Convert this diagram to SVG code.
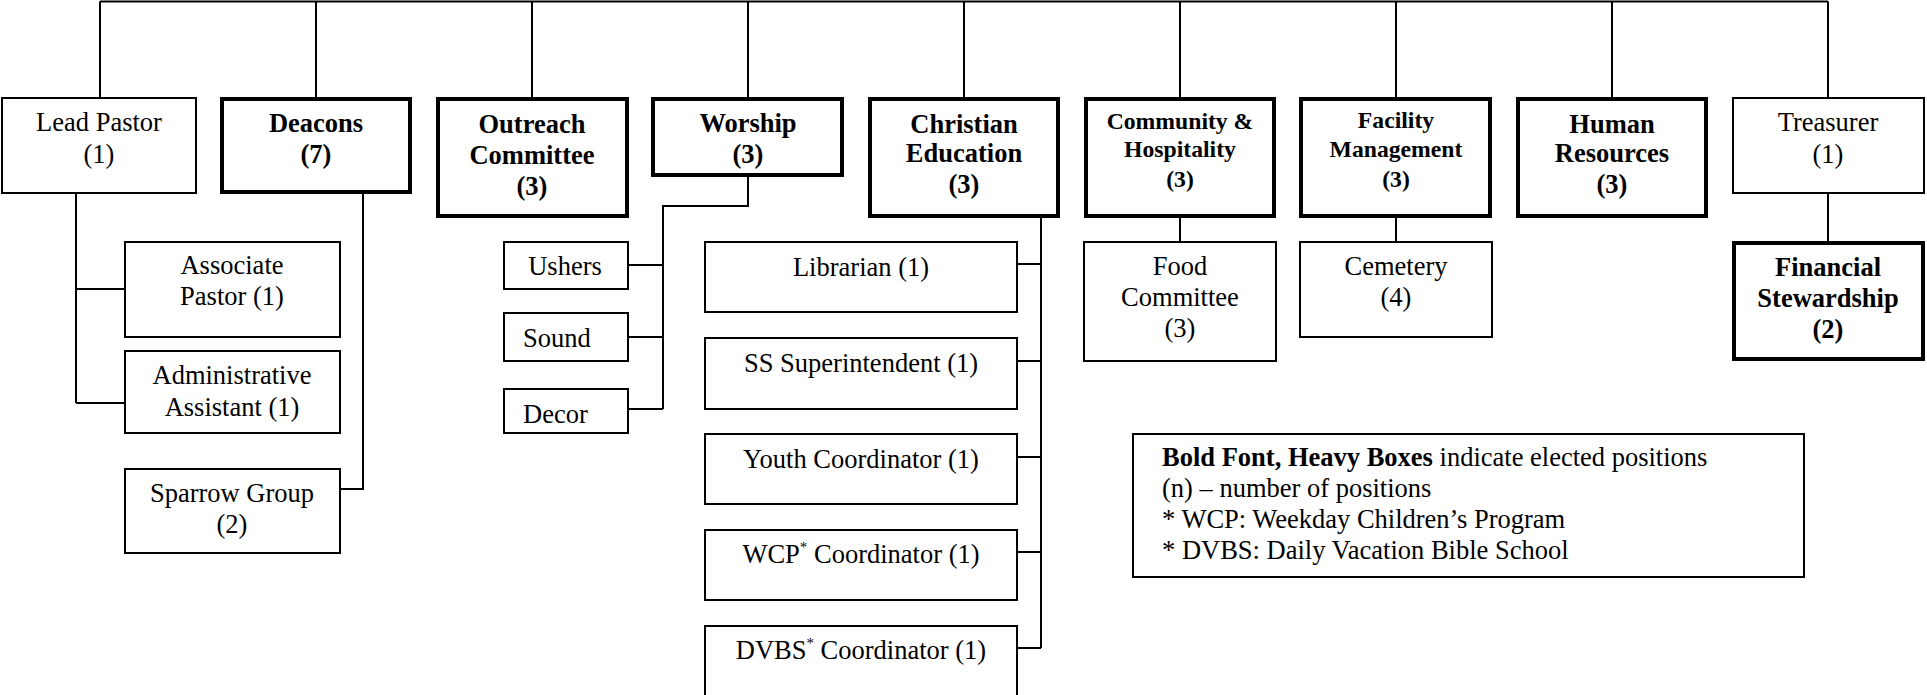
<svg xmlns="http://www.w3.org/2000/svg" width="1927" height="695" viewBox="0 0 1927 695">
<style>
.thin{fill:#fff;stroke:#000;stroke-width:2}
.heavy{fill:#fff;stroke:#000;stroke-width:4}
.conn{fill:none;stroke:#000;stroke-width:2}
text{font-family:"Liberation Serif","Times New Roman",serif;font-size:26.5px;fill:#000}
.c{text-anchor:middle}
.b{font-weight:bold}
.s{font-size:23.7px}
.sup{font-size:15px}
</style>
<rect width="1927" height="695" fill="#fff"/>
<g id="connectors">
<path class="conn" d="M100 1.5H1828M100 1.5V98M316 1.5V98M532 1.5V98M748 1.5V98M964 1.5V98M1180 1.5V98M1396 1.5V98M1612 1.5V98M1828 1.5V98"/>
<path class="conn" d="M76 193V403M76 289H125M76 403H125"/>
<path class="conn" d="M363 194V489H340"/>
<path class="conn" d="M748 177V206H663V409M628 265H663M628 337H663M628 409H663"/>
<path class="conn" d="M1041 218V648M1017 264H1041M1017 361H1041M1017 457H1041M1017 552H1041M1017 648H1041"/>
<path class="conn" d="M1180 218V242M1396 218V242M1828 193V243"/>
</g>
<g id="lead-pastor"><rect class="thin" x="2" y="98" width="194" height="95"/><text class="c" x="99" y="131">Lead Pastor</text><text class="c" x="99" y="163">(1)</text></g>
<g id="deacons"><rect class="heavy" x="222" y="99" width="188" height="93"/><text class="c b" x="316" y="132">Deacons</text><text class="c b" x="316" y="163">(7)</text></g>
<g id="outreach"><rect class="heavy" x="438" y="99" width="189" height="117"/><text class="c b" x="532" y="133">Outreach</text><text class="c b" x="532" y="164">Committee</text><text class="c b" x="532" y="195">(3)</text></g>
<g id="worship"><rect class="heavy" x="653" y="99" width="189" height="76"/><text class="c b" x="748" y="132">Worship</text><text class="c b" x="748" y="163">(3)</text></g>
<g id="christian-education"><rect class="heavy" x="870" y="99" width="188" height="117"/><text class="c b" x="964" y="133">Christian</text><text class="c b" x="964" y="162">Education</text><text class="c b" x="964" y="193">(3)</text></g>
<g id="community"><rect class="heavy" x="1086" y="99" width="188" height="117"/><text class="c b s" x="1180" y="129">Community &amp;</text><text class="c b s" x="1180" y="157">Hospitality</text><text class="c b s" x="1180" y="187">(3)</text></g>
<g id="facility"><rect class="heavy" x="1301" y="99" width="189" height="117"/><text class="c b s" x="1396" y="128">Facility</text><text class="c b s" x="1396" y="157">Management</text><text class="c b s" x="1396" y="187">(3)</text></g>
<g id="human-resources"><rect class="heavy" x="1518" y="99" width="188" height="117"/><text class="c b" x="1612" y="133">Human</text><text class="c b" x="1612" y="162">Resources</text><text class="c b" x="1612" y="193">(3)</text></g>
<g id="treasurer"><rect class="thin" x="1733" y="98" width="191" height="95"/><text class="c" x="1828" y="131">Treasurer</text><text class="c" x="1828" y="163">(1)</text></g>
<g id="associate-pastor"><rect class="thin" x="125" y="242" width="215" height="95"/><text class="c" x="232" y="274">Associate</text><text class="c" x="232" y="305">Pastor (1)</text></g>
<g id="admin-assistant"><rect class="thin" x="125" y="351" width="215" height="82"/><text class="c" x="232" y="384">Administrative</text><text class="c" x="232" y="416">Assistant (1)</text></g>
<g id="sparrow-group"><rect class="thin" x="125" y="469" width="215" height="84"/><text class="c" x="232" y="502">Sparrow Group</text><text class="c" x="232" y="533">(2)</text></g>
<g id="ushers"><rect class="thin" x="504" y="242" width="124" height="47"/><text class="c" x="565" y="275">Ushers</text></g>
<g id="sound"><rect class="thin" x="504" y="313" width="124" height="48"/><text x="523" y="347">Sound</text></g>
<g id="decor"><rect class="thin" x="504" y="389" width="124" height="44"/><text x="523" y="423">Decor</text></g>
<g id="librarian"><rect class="thin" x="705" y="242" width="312" height="70"/><text class="c" x="861" y="276">Librarian (1)</text></g>
<g id="ss-superintendent"><rect class="thin" x="705" y="338" width="312" height="71"/><text class="c" x="861" y="372">SS Superintendent (1)</text></g>
<g id="youth-coordinator"><rect class="thin" x="705" y="434" width="312" height="70"/><text class="c" x="861" y="468">Youth Coordinator (1)</text></g>
<g id="wcp-coordinator"><rect class="thin" x="705" y="530" width="312" height="70"/><text class="c" x="861" y="563">WCP<tspan class="sup" dy="-11">*</tspan><tspan dy="11"> Coordinator (1)</tspan></text></g>
<g id="dvbs-coordinator"><rect class="thin" x="705" y="626" width="312" height="80"/><text class="c" x="861" y="659">DVBS<tspan class="sup" dy="-11">*</tspan><tspan dy="11"> Coordinator (1)</tspan></text></g>
<g id="food-committee"><rect class="thin" x="1084" y="242" width="192" height="119"/><text class="c" x="1180" y="275">Food</text><text class="c" x="1180" y="306">Committee</text><text class="c" x="1180" y="337">(3)</text></g>
<g id="cemetery"><rect class="thin" x="1300" y="242" width="192" height="95"/><text class="c" x="1396" y="275">Cemetery</text><text class="c" x="1396" y="306">(4)</text></g>
<g id="financial-stewardship"><rect class="heavy" x="1734" y="243" width="189" height="116"/><text class="c b" x="1828" y="276">Financial</text><text class="c b" x="1828" y="307">Stewardship</text><text class="c b" x="1828" y="338">(2)</text></g>
<g id="legend"><rect class="thin" x="1133" y="434" width="671" height="143"/>
<text x="1162" y="466"><tspan class="b">Bold Font, Heavy Boxes</tspan> indicate elected positions</text>
<text x="1162" y="497">(n) – number of positions</text>
<text x="1162" y="528">* WCP: Weekday Children’s Program</text>
<text x="1162" y="559">* DVBS: Daily Vacation Bible School</text>
</g>
</svg>
